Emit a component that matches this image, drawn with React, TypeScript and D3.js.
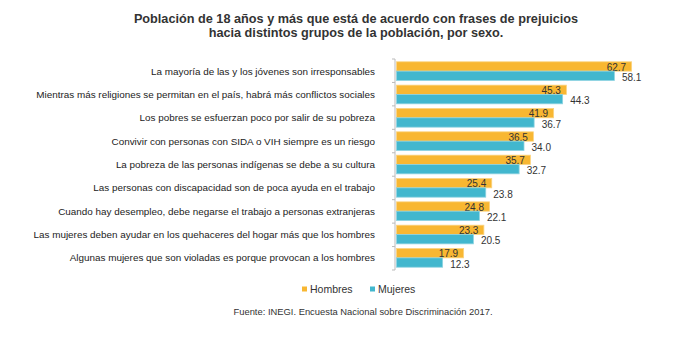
import React from "react";
import * as d3 from "d3";

const categories = [
  "La mayoría de las y los jóvenes son irresponsables",
  "Mientras más religiones se permitan en el país, habrá más conflictos sociales",
  "Los pobres se esfuerzan poco por salir de su pobreza",
  "Convivir con personas con SIDA o VIH siempre es un riesgo",
  "La pobreza de las personas indígenas se debe a su cultura",
  "Las personas con discapacidad son de poca ayuda en el trabajo",
  "Cuando hay desempleo, debe negarse el trabajo a personas extranjeras",
  "Las mujeres deben ayudar en los quehaceres del hogar más que los hombres",
  "Algunas mujeres que son violadas es porque provocan a los hombres",
];
const hombres = [62.7, 45.3, 41.9, 36.5, 35.7, 25.4, 24.8, 23.3, 17.9];
const mujeres = [58.1, 44.3, 36.7, 34.0, 32.7, 23.8, 22.1, 20.5, 12.3];
const seriesNames = ["Hombres", "Mujeres"];
const colors = ["#F8B732", "#42B7CE"];
const strokes = ["#FBD37F", "#8ED3E1"];
const titleLines = [
  "Población de 18 años y más que está de acuerdo con frases de prejuicios",
  "hacia distintos grupos de la población, por sexo.",
];
const source = "Fuente: INEGI. Encuesta Nacional sobre Discriminación 2017.";

const W = 700;
const H = 341;
const font = "'Liberation Sans', Arial, Helvetica, sans-serif";

export default function App() {
  const x0 = 396.5;
  const x = d3.scaleLinear().domain([0, 70]).range([x0, x0 + 262.5]);
  const y = d3
    .scaleBand<string>()
    .domain(categories)
    .range([59, 270])
    .paddingInner(0.2)
    .paddingOuter(0.12);
  const inner = d3
    .scaleBand<string>()
    .domain(seriesNames)
    .range([0, y.bandwidth()]);
  const axisTop = 59;
  const boundaries = d3.range(categories.length + 1).map((i) => axisTop + i * (211 / categories.length));
  const series = [hombres, mujeres];

  return (
    <svg
      width={W}
      height={H}
      style={{ position: "absolute", left: 0, top: 0, background: "#fff" }}
      fontFamily={font}
    >
      <rect width={W} height={H} fill="#fff" />
      {titleLines.map((t, i) => (
        <text
          key={i}
          x={356}
          y={22.5 + i * 14.5}
          textAnchor="middle"
          fontSize={12.7}
          fontWeight="bold"
          fill="#333"
        >
          {t}
        </text>
      ))}
      {categories.map((c) => (
        <text
          key={c}
          x={375}
          y={(y(c) as number) + y.bandwidth() / 2}
          dy="0.35em"
          textAnchor="end"
          fontSize={9.9}
          fill="#222"
        >
          {c}
        </text>
      ))}
      {series.map((vals, s) =>
        categories.map((c, i) => {
          const yy = (y(c) as number) + (inner(seriesNames[s]) as number);
          const h = inner.bandwidth();
          return (
            <g key={c + s}>
              <rect
                x={x(0)}
                y={yy}
                width={x(vals[i]) - x(0)}
                height={h}
                fill={colors[s]}
                stroke={strokes[s]}
                strokeWidth={0.8}
              />
              <text
                x={s === 0 ? x(vals[i]) - 5.5 : x(vals[i]) + 7.5}
                y={yy + h - (s === 0 ? 0.5 : -0.5)}
                textAnchor={s === 0 ? "end" : "start"}
                fontSize={10}
                fill="#333"
              >
                {vals[i].toFixed(1)}
              </text>
            </g>
          );
        })
      )}
      <line x1={395} x2={395} y1={axisTop} y2={270} stroke="#bbb" strokeWidth={1} />
      {boundaries.map((b, i) => (
        <line key={i} x1={392} x2={395} y1={b} y2={b} stroke="#bbb" strokeWidth={1} />
      ))}
      {seriesNames.map((n, i) => (
        <g key={n} transform={`translate(${i === 0 ? 302 : 370},0)`}>
          <rect x={0} y={286.5} width={5} height={5} fill={colors[i]} />
          <text x={8} y={292.5} fontSize={10.5} fill="#333">
            {n}
          </text>
        </g>
      ))}
      <text x={363} y={315} textAnchor="middle" fontSize={9.4} fill="#333">
        {source}
      </text>
    </svg>
  );
}
